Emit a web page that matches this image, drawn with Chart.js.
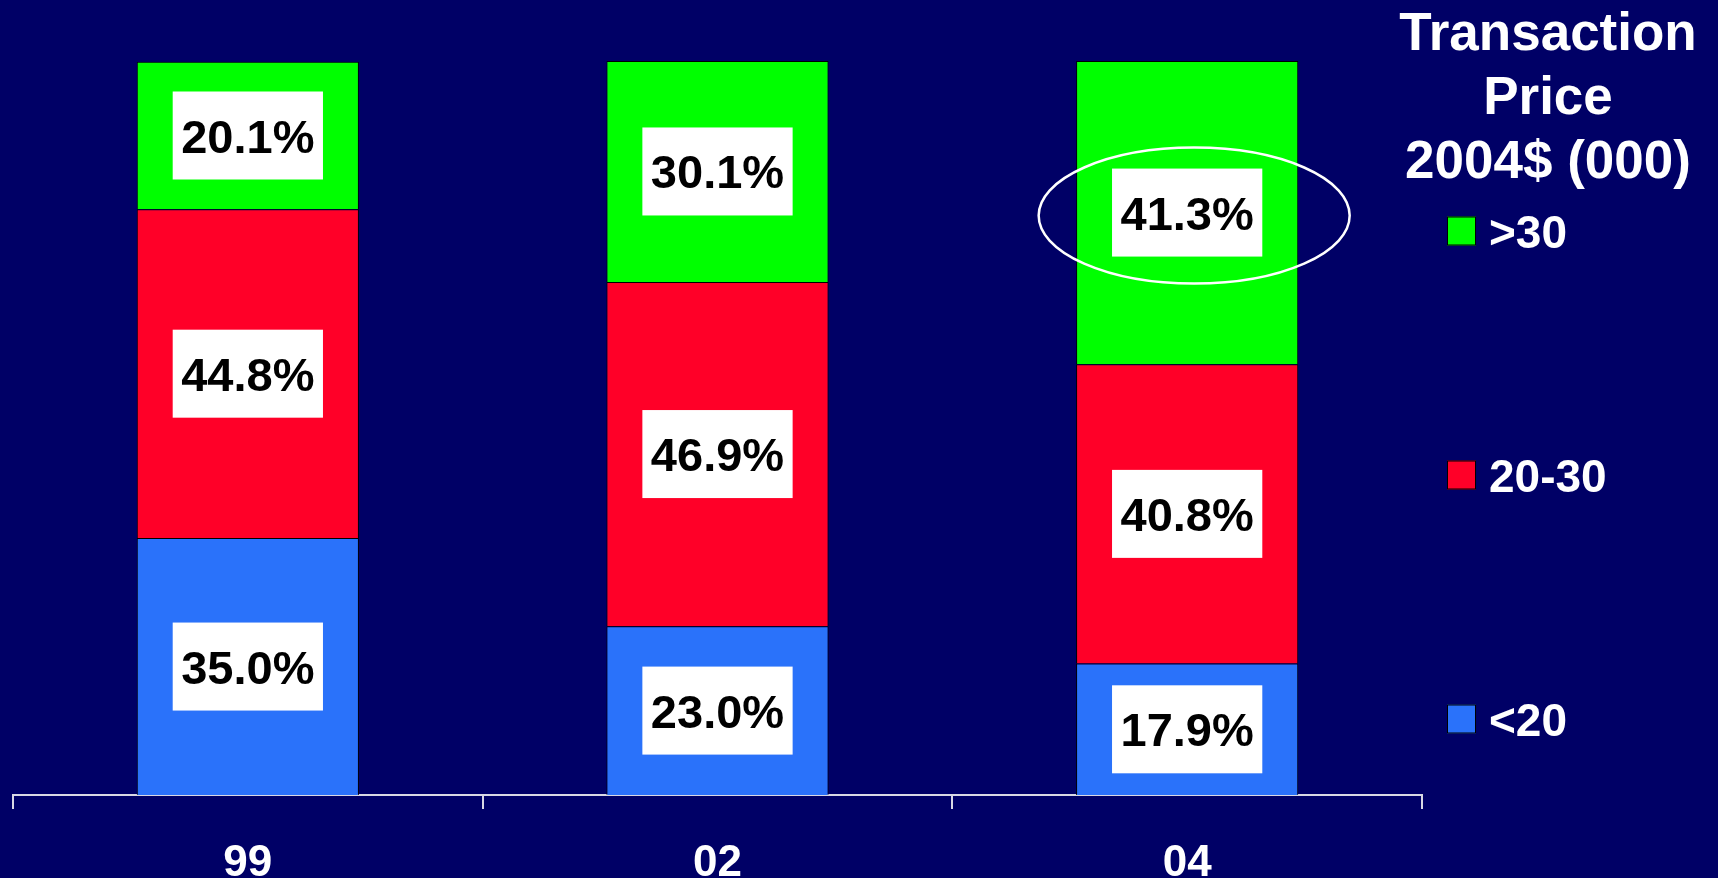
<!DOCTYPE html>
<html>
<head>
<meta charset="utf-8">
<title>Transaction Price mix</title>
<script src="https://cdn.jsdelivr.net/npm/chart.js@4.4.1/dist/chart.umd.min.js"></script>
<style>
  html, body { margin: 0; padding: 0; background: #000066; overflow: hidden; }
  #chart { display: block; }
</style>
</head>
<body>
<canvas id="chart" width="1718" height="878"></canvas>
<script>
/* ── Data ─────────────────────────────────────────────────────────── */
const YEARS = ['99', '02', '04'];
const SERIES_NAMES = ['<20', '20-30', '>30'];   // bottom -> top
const UNDER_20 = [35.0, 23.0, 17.9];
const FROM_20_TO_30 = [44.8, 46.9, 40.8];
const OVER_30 = [20.1, 30.1, 41.3];
const LEGEND_TITLE = ['Transaction', 'Price', '2004$ (000)'];
const HIGHLIGHT = { series: 2, index: 2 };      // circled segment (04, >30)

const COLORS = {
  bg: '#000066',
  blue: '#2A72FA',
  red: '#FF0028',
  green: '#00FF00',
  axis: '#D8D8E4',
  white: '#FFFFFF',
  black: '#000000',
};
const FONT = '"Liberation Sans", Arial, Helvetica, sans-serif';

// White boxed percentage in the middle of each stacked segment
const segmentLabels = {
  id: 'segmentLabels',
  afterDatasetsDraw(chart) {
    const ctx = chart.ctx;
    ctx.save();
    ctx.font = `bold 47px ${FONT}`;
    ctx.textAlign = 'center';
    ctx.textBaseline = 'alphabetic';
    chart.data.datasets.forEach((ds, i) => {
      chart.getDatasetMeta(i).data.forEach((bar, j) => {
        const txt = ds.data[j].toFixed(1) + '%';
        const cy = (bar.y + bar.base) / 2;
        const w = ctx.measureText(txt).width + 17;
        ctx.fillStyle = COLORS.white;
        ctx.fillRect(bar.x - w / 2, cy - 44, w, 88);
        ctx.fillStyle = COLORS.black;
        ctx.fillText(txt, bar.x, cy + 17);
      });
    });

    // highlight ellipse
    const hb = chart.getDatasetMeta(HIGHLIGHT.series).data[HIGHLIGHT.index];
    if (hb) {
      const cy = (hb.y + hb.base) / 2;
      ctx.beginPath();
      ctx.ellipse(hb.x + 7, cy + 3, hb.width * 0.7, 68, 0, 0, Math.PI * 2);
      ctx.strokeStyle = COLORS.white;
      ctx.lineWidth = 2.5;
      ctx.stroke();
    }
    ctx.restore();
  },
};

// Legend on the right: multi-line title, then items top -> bottom
const sideLegend = {
  id: 'sideLegend',
  afterDraw(chart) {
    const ctx = chart.ctx;
    ctx.save();
    ctx.fillStyle = COLORS.white;
    ctx.textAlign = 'center';
    ctx.textBaseline = 'alphabetic';
    ctx.font = `bold 53px ${FONT}`;
    LEGEND_TITLE.forEach((line, k) => ctx.fillText(line, 1548, 50 + k * 64));

    const items = chart.data.datasets.slice().reverse();
    ctx.textAlign = 'left';
    ctx.font = `bold 46px ${FONT}`;
    items.forEach((ds, k) => {
      const cy = 231 + k * 244;
      ctx.fillStyle = ds.backgroundColor;
      ctx.fillRect(1447, cy - 14.5, 29, 29);
      ctx.strokeStyle = COLORS.black;
      ctx.lineWidth = 1;
      ctx.strokeRect(1447.5, cy - 14, 28, 28);
      ctx.fillStyle = COLORS.white;
      ctx.fillText(ds.label, 1489, cy + 16.5);
    });
    ctx.restore();
  },
};

const seriesValues = [UNDER_20, FROM_20_TO_30, OVER_30];
const seriesColors = [COLORS.blue, COLORS.red, COLORS.green];

new Chart(document.getElementById('chart'), {
  type: 'bar',
  data: {
    labels: YEARS,
    datasets: SERIES_NAMES.map((name, i) => ({
      label: name,
      data: seriesValues[i],
      backgroundColor: seriesColors[i],
      borderColor: COLORS.black,
      borderWidth: 1,
      categoryPercentage: 1,
      barPercentage: 0.473,
    })),
  },
  options: {
    responsive: false,
    animation: false,
    devicePixelRatio: 1,
    layout: { padding: { left: 13, right: 296, top: 61, bottom: 0 } },
    plugins: {
      legend: { display: false },
      tooltip: { enabled: false },
    },
    scales: {
      x: {
        stacked: true,
        offset: true,
        z: 1,
        grid: {
          display: true, offset: true, drawOnChartArea: false,
          tickLength: 14, color: COLORS.axis, lineWidth: 2,
        },
        border: { display: true, color: COLORS.axis, width: 2 },
        ticks: { color: COLORS.white, padding: 28, font: { family: FONT, size: 44, weight: 'bold' } },
        afterFit: (scale) => { scale.height = 83; },
      },
      y: { display: false, stacked: true, min: 0, max: 100 },
    },
  },
  plugins: [segmentLabels, sideLegend],
});
</script>
</body>
</html>
